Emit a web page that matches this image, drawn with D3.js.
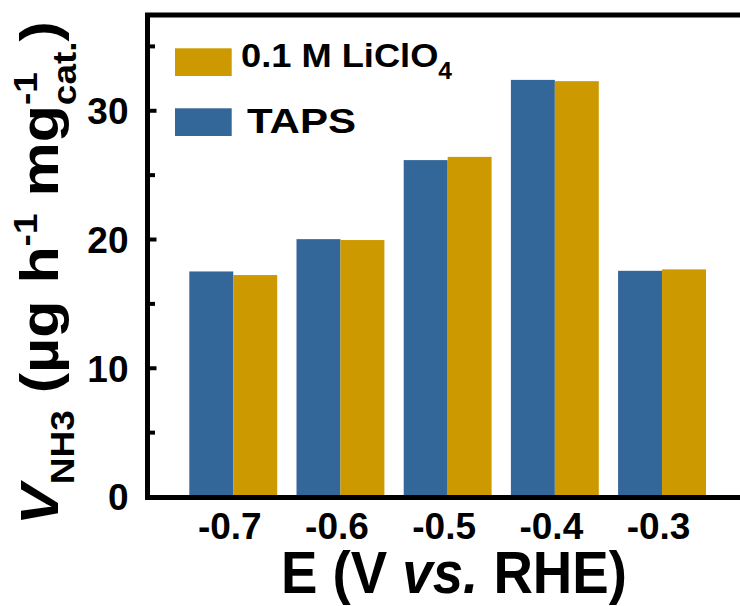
<!DOCTYPE html>
<html>
<head>
<meta charset="utf-8">
<script src="https://cdn.jsdelivr.net/npm/d3@7"></script>
<style>
  html, body { margin: 0; padding: 0; background: #fff; }
  svg { display: block; font-family: "Liberation Sans", Arial, sans-serif; }
</style>
</head>
<body>
<svg id="chart" width="740" height="606"></svg>
<script>
// Potentials (V vs. RHE)
const categories = [-0.7, -0.6, -0.5, -0.4, -0.3];
const xTickLabels = ["-0.7", "-0.6", "-0.5", "-0.4", "-0.3"];
// NH3 yield rates (µg h^-1 mg_cat^-1)
const tapsValues = [17.48, 19.99, 26.13, 32.36, 17.53];
const liclo4Values = [17.20, 19.92, 26.38, 32.26, 17.64];
const seriesNames = ["TAPS", "0.1 M LiClO4"];
const seriesColors = ["#336699", "#CC9900"];
const yMajorTicks = [0, 10, 20, 30];
const yMinorTicks = [5, 15, 25, 35];

const svg = d3.select("#chart");

const x = d3.scaleLinear().domain([-0.78, -0.22]).range([147.5, 747.8]);
const y = d3.scaleLinear().domain([0, 37.4]).range([496.5, 15]);
const offset = d3.scaleBand().domain(seriesNames).range([-0.041, 0.041]);
const color = d3.scaleOrdinal().domain(seriesNames).range(seriesColors);

const rows = categories.map((c, i) => ({
  cat: c,
  values: [
    { name: seriesNames[0], value: tapsValues[i] },
    { name: seriesNames[1], value: liclo4Values[i] }
  ]
}));

// bars
const groups = svg.append("g").selectAll("g").data(rows).join("g");
groups.selectAll("rect")
  .data(d => d.values.map(v => ({ ...v, cat: d.cat })))
  .join("rect")
  .attr("x", d => x(d.cat + offset(d.name)))
  .attr("width", d => x(d.cat + offset(d.name) + offset.bandwidth()) - x(d.cat + offset(d.name)))
  .attr("y", d => y(d.value))
  .attr("height", d => y(0) - y(d.value))
  .attr("fill", d => color(d.name));

// frame
svg.append("rect")
  .attr("x", x.range()[0]).attr("y", y.range()[1])
  .attr("width", x.range()[1] - x.range()[0])
  .attr("height", y.range()[0] - y.range()[1] + 1)
  .attr("fill", "none").attr("stroke", "#000").attr("stroke-width", 5);

// inward ticks on the left axis
const majorTickAxis = svg.append("g")
  .attr("transform", `translate(${x.range()[0]},0)`)
  .call(d3.axisRight(y).tickValues(yMajorTicks).tickSize(9).tickFormat(""));
const minorTickAxis = svg.append("g")
  .attr("transform", `translate(${x.range()[0]},0)`)
  .call(d3.axisRight(y).tickValues(yMinorTicks).tickSize(7.5).tickFormat(""));
[majorTickAxis, minorTickAxis].forEach(g => {
  g.select(".domain").remove();
  g.selectAll("line").attr("stroke", "#000").attr("stroke-width", 4);
});

// y tick labels
const yLabels = svg.append("g")
  .attr("transform", `translate(${x.range()[0]},0)`)
  .call(d3.axisLeft(y).tickValues(yMajorTicks).tickSize(0).tickPadding(19).tickFormat(d3.format("d")));
yLabels.select(".domain").remove();
yLabels.selectAll("text")
  .attr("font-size", 37).attr("font-weight", "bold").attr("fill", "#000")
  .attr("font-family", "Liberation Sans, Arial, sans-serif")
  .attr("dy", "0.36em");

// x tick labels
const xLabels = svg.append("g")
  .attr("transform", `translate(0,${y(0)})`)
  .call(d3.axisBottom(x).tickValues(categories).tickSize(0).tickPadding(16)
    .tickFormat((d, i) => xTickLabels[i]));
xLabels.select(".domain").remove();
xLabels.selectAll("text")
  .attr("font-size", 37).attr("font-weight", "bold").attr("fill", "#000")
  .attr("font-family", "Liberation Sans, Arial, sans-serif")
  .attr("dx", -4);

// x axis title
const xTitle = svg.append("g").attr("transform", "translate(281,593) scale(0.91,1)")
  .append("text")
  .attr("font-size", 60).attr("font-weight", "bold").attr("fill", "#000");
xTitle.append("tspan").text("E (V ");
xTitle.append("tspan").attr("font-style", "italic").text("vs.");
xTitle.append("tspan").text(" RHE)");

// y axis title
const yTitle = svg.append("g").attr("transform", "translate(58,273) scale(0.89,1) rotate(-90)")
  .append("text")
  .attr("text-anchor", "middle")
  .attr("font-size", 61).attr("font-weight", "bold").attr("fill", "#000");
yTitle.append("tspan").attr("font-style", "italic").text("V");
yTitle.append("tspan").attr("font-size", 37).attr("dy", 18).text("NH3");
yTitle.append("tspan").attr("dy", -18).text(" (\u00b5g h");
yTitle.append("tspan").attr("font-size", 37).attr("dy", -24).text("-1");
yTitle.append("tspan").attr("dy", 24).text(" mg");
yTitle.append("tspan").attr("font-size", 37).attr("dy", -24).text("-1");
yTitle.append("tspan").attr("font-size", 37).attr("dx", -33).attr("dy", 44).text("cat.");
yTitle.append("tspan").attr("dy", -20).text(")");

// legend
const legendItems = [
  { name: seriesNames[1], y: 48.3, textY: 67.3 },
  { name: seriesNames[0], y: 108.3, textY: 133.3 }
];
const legend = svg.append("g");
legend.selectAll("rect").data(legendItems).join("rect")
  .attr("x", 175).attr("y", d => d.y)
  .attr("width", 56.7).attr("height", 27.7)
  .attr("fill", d => color(d.name));

const t1 = legend.append("text")
  .attr("x", 241).attr("y", legendItems[0].textY)
  .attr("font-size", 34).attr("font-weight", "bold").attr("fill", "#000")
  .attr("textLength", 211).attr("lengthAdjust", "spacingAndGlyphs");
t1.append("tspan").text("0.1 M LiClO");
t1.append("tspan").attr("font-size", 23).attr("dy", 12).text("4");

legend.append("text")
  .attr("x", 247).attr("y", legendItems[1].textY)
  .attr("font-size", 35.5).attr("font-weight", "bold").attr("fill", "#000")
  .attr("textLength", 109).attr("lengthAdjust", "spacingAndGlyphs")
  .text("TAPS");
</script>
</body>
</html>
